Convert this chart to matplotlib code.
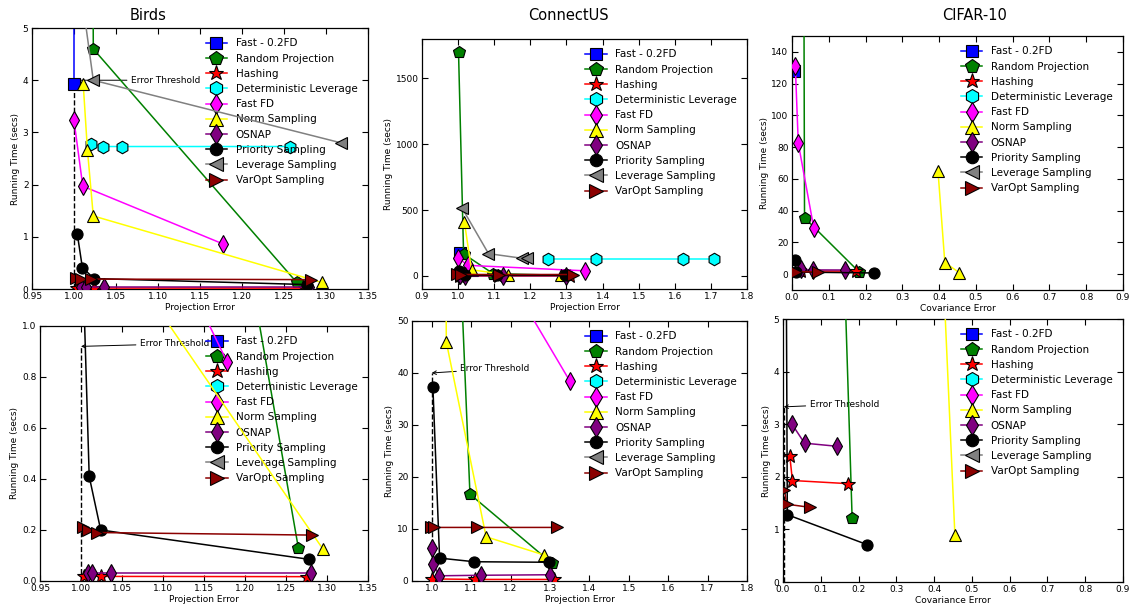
import matplotlib
matplotlib.use("Agg")
import matplotlib.pyplot as plt
from matplotlib.ticker import MultipleLocator, FormatStrFormatter

# ---- methods and their plotting styles ----
methods = ["Fast - 0.2FD", "Random Projection", "Hashing", "Deterministic Leverage",
           "Fast FD", "Norm Sampling", "OSNAP", "Priority Sampling",
           "Leverage Sampling", "VarOpt Sampling"]
colors = ["#0000ff", "#008000", "#ff0000", "#00ffff", "#ff00ff",
          "#ffff00", "#800080", "#000000", "#808080", "#8b0000"]
markers = ["s", "p", "*", "h", "d", "^", "d", "o", "<", ">"]
msizes = [8, 9, 10, 9, 9, 9, 9, 8, 9, 9]

# ---- Birds: projection error vs running time (secs) ----
birds_err = {
    "Fast - 0.2FD": [1.000, 1.000],
    "Random Projection": [1.0215, 1.023, 1.265],
    "Hashing": [1.004, 1.024, 1.275],
    "Deterministic Leverage": [1.020, 1.034, 1.057, 1.257],
    "Fast FD": [1.000, 1.0105, 1.178],
    "Norm Sampling": [1.011, 1.016, 1.023, 1.295],
    "OSNAP": [1.008, 1.014, 1.036, 1.280],
    "Priority Sampling": [1.004, 1.010, 1.024, 1.278],
    "Leverage Sampling": [1.006, 1.023, 1.318],
    "VarOpt Sampling": [1.002, 1.008, 1.020, 1.282],
}
birds_time = {
    "Fast - 0.2FD": [3.93, 9.0],
    "Random Projection": [12.0, 4.60, 0.13],
    "Hashing": [0.020, 0.018, 0.017],
    "Deterministic Leverage": [2.77, 2.73, 2.73, 2.73],
    "Fast FD": [3.23, 1.97, 0.86],
    "Norm Sampling": [3.93, 2.67, 1.40, 0.125],
    "OSNAP": [0.03, 0.03, 0.03, 0.03],
    "Priority Sampling": [1.05, 0.41, 0.20, 0.085],
    "Leverage Sampling": [6.0, 4.0, 2.80],
    "VarOpt Sampling": [0.21, 0.20, 0.19, 0.18],
}

# ---- ConnectUS ----
connect_err = {
    "Fast - 0.2FD": [1.004],
    "Random Projection": [1.001, 1.015, 1.097, 1.305],
    "Hashing": [1.002, 1.110, 1.310],
    "Deterministic Leverage": [1.250, 1.382, 1.623, 1.709],
    "Fast FD": [1.000, 1.026, 1.350],
    "Norm Sampling": [1.017, 1.037, 1.138, 1.285],
    "OSNAP": [1.002, 1.004, 1.019, 1.125, 1.300],
    "Priority Sampling": [1.003, 1.020, 1.108, 1.297],
    "Leverage Sampling": [1.011, 1.084, 1.176, 1.190],
    "VarOpt Sampling": [0.997, 1.007, 1.114, 1.318],
}
connect_time = {
    "Fast - 0.2FD": [175],
    "Random Projection": [1700, 167, 16.7, 3.4],
    "Hashing": [0.4, 0.3, 0.3],
    "Deterministic Leverage": [128, 128, 128, 128],
    "Fast FD": [138, 80, 38.5],
    "Norm Sampling": [413, 46, 8.5, 5.0],
    "OSNAP": [6.3, 3.3, 1.0, 1.1, 1.2],
    "Priority Sampling": [37.3, 4.4, 3.7, 3.6],
    "Leverage Sampling": [515, 169, 134, 134],
    "VarOpt Sampling": [10.4, 10.3, 10.3, 10.3],
}

# ---- CIFAR-10: covariance error vs running time (secs) ----
cifar_err = {
    "Fast - 0.2FD": [0.006],
    "Random Projection": [0.031, 0.034, 0.183],
    "Hashing": [0.018, 0.025, 0.173],
    "Deterministic Leverage": [],
    "Fast FD": [0.009, 0.017, 0.059],
    "Norm Sampling": [0.397, 0.4155, 0.455],
    "OSNAP": [0.024, 0.057, 0.144],
    "Priority Sampling": [0.007, 0.0115, 0.223],
    "Leverage Sampling": [],
    "VarOpt Sampling": [0.004, 0.010, 0.071],
}
cifar_time = {
    "Fast - 0.2FD": [128],
    "Random Projection": [300, 35.5, 1.22],
    "Hashing": [2.40, 1.93, 1.87],
    "Deterministic Leverage": [],
    "Fast FD": [131, 82.5, 29.3],
    "Norm Sampling": [64.8, 7.3, 0.9],
    "OSNAP": [3.0, 2.64, 2.58],
    "Priority Sampling": [8.8, 1.28, 0.71],
    "Leverage Sampling": [],
    "VarOpt Sampling": [1.74, 1.48, 1.42],
}

# error-threshold marker per dataset: (x, height)
birds_thresh = (1.0, 4.0)
birds_thresh_zoom = (1.0, 0.92)
connect_thresh = (1.0, 40.0)
cifar_thresh = (0.002, 3.33)

plt.rcParams["font.family"] = ["DejaVu Sans"]

fig = plt.figure(figsize=(11.3, 6.04), dpi=100)


def panel(rect, errs, times, xlim, xstep, xfmt, ylim, ystep, yfmt, xlabel,
          thresh, text_xy=None):
    ax = fig.add_axes(rect)
    tx, th = thresh
    ax.plot([tx, tx], [0, th], "k--", lw=1.0, zorder=1)
    if text_xy is not None:
        ax.annotate("Error Threshold", xy=(tx, th), xytext=text_xy,
                    fontsize=6.5, va="center", ha="left", zorder=1,
                    arrowprops=dict(arrowstyle="->", color="k", lw=0.7,
                                    shrinkA=1, shrinkB=0))
    for i, m in enumerate(methods):
        ax.plot(errs[m], times[m], color=colors[i], marker=markers[i],
                ms=msizes[i], mec="k", mew=0.8, lw=1.1, label=m, zorder=2 + i)
    ax.set_xlim(*xlim)
    ax.set_ylim(*ylim)
    ax.xaxis.set_major_locator(MultipleLocator(xstep))
    ax.yaxis.set_major_locator(MultipleLocator(ystep))
    ax.xaxis.set_major_formatter(FormatStrFormatter(xfmt))
    ax.yaxis.set_major_formatter(FormatStrFormatter(yfmt))
    ax.tick_params(direction="in", top=True, right=True, length=4,
                   width=0.8, labelsize=6.5, pad=2.5)
    for s in ax.spines.values():
        s.set_linewidth(0.9)
    ax.set_xlabel(xlabel, fontsize=6.5, labelpad=1)
    ax.set_ylabel("Running Time (secs)", fontsize=6.5, labelpad=2)
    ax.legend(loc="upper right", frameon=False, numpoints=1, fontsize=7.5,
              labelspacing=0.5, handlelength=2.1, handletextpad=0.8,
              markerscale=1.12, borderaxespad=0.6)
    return ax


# top row: full range
panel([0.0283, 0.5215, 0.2973, 0.4321], birds_err, birds_time,
      (0.95, 1.35), 0.05, "%.2f", (0, 5), 1, "%d", "Projection Error",
      birds_thresh, text_xy=(1.068, 4.0))
panel([0.3735, 0.5215, 0.2876, 0.4139], connect_err, connect_time,
      (0.9, 1.8), 0.1, "%.1f", (-100, 1800), 500, "%d", "Projection Error",
      connect_thresh)
panel([0.7009, 0.5199, 0.2929, 0.4205], cifar_err, cifar_time,
      (0.0, 0.9), 0.1, "%.1f", (-10, 150), 20, "%d", "Covariance Error",
      cifar_thresh)

# bottom row: zoomed-in view of the fast region
panel([0.0354, 0.0381, 0.2903, 0.4222], birds_err, birds_time,
      (0.95, 1.35), 0.05, "%.2f", (0, 1), 0.2, "%.1f", "Projection Error",
      birds_thresh_zoom, text_xy=(1.072, 0.93))
panel([0.3646, 0.0381, 0.2965, 0.4305], connect_err, connect_time,
      (0.95, 1.8), 0.1, "%.1f", (0, 50), 10, "%d", "Projection Error",
      connect_thresh, text_xy=(1.073, 40.8))
panel([0.6929, 0.0364, 0.3009, 0.4354], cifar_err, cifar_time,
      (0.0, 0.9), 0.1, "%.1f", (0, 5), 1, "%d", "Covariance Error",
      cifar_thresh, text_xy=(0.071, 3.38))

# dataset captions
for label, xc in [("Birds", 148), ("ConnectUS", 568), ("CIFAR-10", 975)]:
    fig.text(xc / 1130, 1 - 15 / 604, label, ha="center", va="center",
             fontsize=10.5)

fig.savefig("out.png", dpi=100)
